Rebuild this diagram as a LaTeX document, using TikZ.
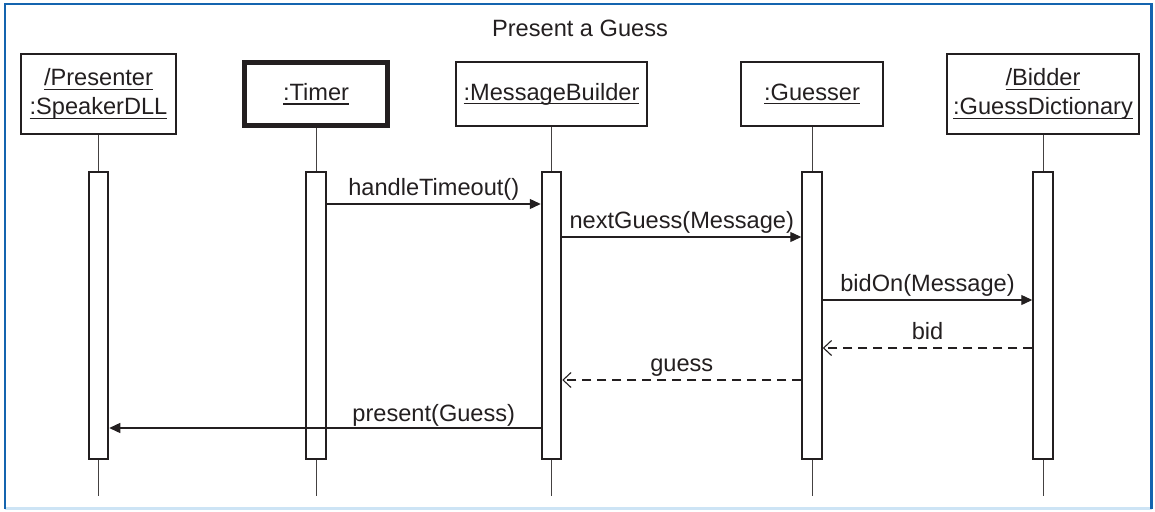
\documentclass[tikz,border=0pt]{standalone}
\usepackage{fontspec}
\setmainfont{Liberation Sans}
\usetikzlibrary{arrows.meta,calc}
\definecolor{ink}{RGB}{35,31,32}
\definecolor{framebl}{RGB}{20,100,175}
\definecolor{framelt}{RGB}{205,228,245}
\newcommand{\ulx}[1]{\setbox0\hbox{#1}\makebox[0pt][l]{\rule[-4.1pt]{\wd0}{1.2pt}}\box0}
\begin{document}
\begin{tikzpicture}[x=1pt,y=-1pt,
  every node/.style={text=ink,font=\fontsize{23.6}{29}\selectfont},
  obj/.style={draw=ink,line width=2pt,inner sep=0pt,align=center},
  act/.style={draw=ink,fill=white,line width=2pt,inner sep=0pt,minimum width=19.5pt,minimum height=287pt},
  life/.style={draw=ink!85,line width=1pt},
  call/.style={draw=ink,line width=1.3pt,-{Triangle[length=11pt,width=10pt]}},
  ret/.style={draw=ink,line width=1.3pt,dash pattern=on 9pt off 6pt,-{Straight Barb[length=8pt,width=15pt,line width=1.1pt]}},
  lbl/.style={anchor=base,inner sep=0pt}]
\useasboundingbox (0,0) rectangle (1155,511);
% frame
\draw[framelt,line width=2.5pt] (5,508.5) -- (1151.5,508.5);
\draw[framebl,line width=2.5pt] (5,508.5) -- (5,4) -- (1151.5,4) -- (1151.5,508.5);
\node[lbl] (title) at (580,37) {Present a Guess};
% objects
\node[obj,minimum width=155pt,minimum height=80pt] (o1) at (98.5,94) {\ulx{/Presenter}\\\ulx{:SpeakerDLL}};
\node[obj,line width=5pt,minimum width=143pt,minimum height=63pt] (o2) at (316,94) {\ulx{:Timer}};
\node[obj,minimum width=191pt,minimum height=64pt] (o3) at (551.5,94) {\ulx{:MessageBuilder}};
\node[obj,minimum width=142pt,minimum height=64pt] (o4) at (812,94) {\ulx{:Guesser}};
\node[obj,minimum width=192pt,minimum height=80pt] (o5) at (1043,94) {\ulx{/Bidder}\\\ulx{:GuessDictionary}};
% lifeline ends
\coordinate (e1) at (98.5,496);
\coordinate (e2) at (316,496);
\coordinate (e3) at (551.5,496);
\coordinate (e4) at (812,496);
\coordinate (e5) at (1043,496);
\foreach \i in {1,...,5} {\draw[life] (o\i.south) -- (e\i);}
% activations
\node[act] (a1) at (98.5,315.5) {};
\node[act] (a2) at (316,315.5) {};
\node[act] (a3) at (551.5,315.5) {};
\node[act] (a4) at (812,315.5) {};
\node[act] (a5) at (1043,315.5) {};
\coordinate (c23) at ($(a2.east)!0.5!(a3.west)$);
\coordinate (c34) at ($(a3.east)!0.5!(a4.west)$);
\coordinate (c45) at ($(a4.east)!0.5!(a5.west)$);
% messages
\draw[call] (a2.east |- 0,204) -- (a3.west |- 0,204);
\node[lbl] (m1) at (c23 |- 0,195.5) {handleTimeout()};
\draw[call] (a3.east |- 0,237) -- (a4.west |- 0,237);
\node[lbl] (m2) at (c34 |- 0,228) {nextGuess(Message)};
\draw[call] (a4.east |- 0,300) -- (a5.west |- 0,300);
\node[lbl] (m3) at (c45 |- 0,291.5) {bidOn(Message)};
\draw[ret] (a5.west |- 0,348) -- (a4.east |- 0,348);
\node[lbl] (m4) at (c45 |- 0,339.5) {bid};
\draw[ret] (a4.west |- 0,380) -- (a3.east |- 0,380);
\node[lbl] (m5) at (c34 |- 0,371.5) {guess};
\draw[call] (a3.west |- 0,428) -- (a1.east |- 0,428);
\node[lbl] (m6) at (c23 |- 0,421.5) {present(Guess)};
\end{tikzpicture}
\end{document}
